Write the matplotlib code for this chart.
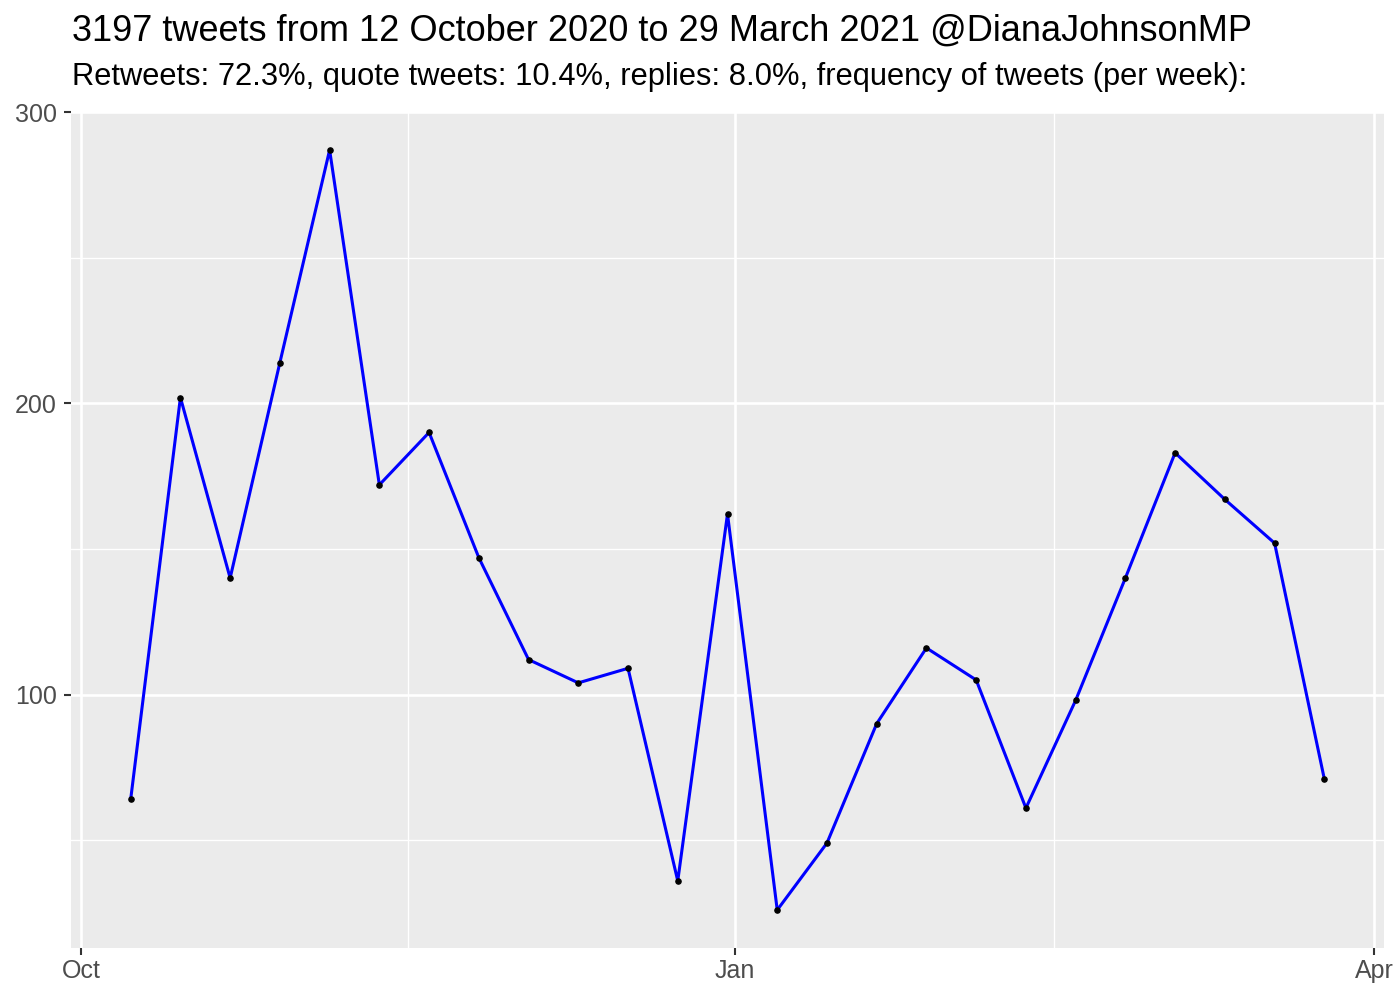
import matplotlib
matplotlib.use("Agg")
import matplotlib.pyplot as plt
import matplotlib.dates as mdates
import numpy as np
import pandas as pd

plt.rcParams['font.family'] = ['Liberation Sans', 'DejaVu Sans']

week_start = "2020-10-08"
n_weeks = 25
tweets_per_week = [64, 202, 140, 214, 287, 172, 190, 147, 112, 104, 109, 36,
                   162, 26, 49, 90, 116, 105, 61, 98, 140, 183, 167, 152, 71]
title = "3197 tweets from 12 October 2020 to 29 March 2021 @DianaJohnsonMP"
subtitle = "Retweets: 72.3%, quote tweets: 10.4%, replies: 8.0%, frequency of tweets (per week):"
x_ticks = ["2020-10-01", "2021-01-01", "2021-04-01"]
x_tick_labels = ["Oct", "Jan", "Apr"]
x_minor = ["2020-11-16", "2021-02-15"]
y_ticks = [100, 200, 300]
y_minor = [50, 150, 250]

dates = pd.date_range(week_start, periods=n_weeks, freq="7D")
vals = np.array(tweets_per_week)

fig = plt.figure(figsize=(14, 10), dpi=100)
ax = fig.add_axes([71/1400, 1 - 948/1000, (1384-71)/1400, (948-112)/1000])
ax.set_facecolor("#EBEBEB")

xn = mdates.date2num(dates)
xr = xn.max() - xn.min()
ax.set_xlim(xn.min() - 0.05*xr, xn.max() + 0.05*xr)
yr = vals.max() - vals.min()
ax.set_ylim(vals.min() - 0.05*yr, vals.max() + 0.05*yr)

ax.set_xticks(mdates.date2num(pd.to_datetime(x_ticks)))
ax.set_xticklabels(x_tick_labels)
ax.set_xticks(mdates.date2num(pd.to_datetime(x_minor)), minor=True)
ax.set_yticks(y_ticks)
ax.set_yticks(y_minor, minor=True)

ax.grid(which="major", color="white", linewidth=1.9)
ax.grid(which="minor", color="white", linewidth=0.95)
ax.set_axisbelow(True)
for s in ax.spines.values():
    s.set_visible(False)
ax.tick_params(which="major", length=5, width=1.5, color="#333333",
               labelsize=18, labelcolor="#4D4D4D")
ax.tick_params(axis="y", which="major", pad=5)
ax.tick_params(axis="x", which="major", pad=3)
ax.tick_params(which="minor", length=0)

ax.plot(dates, vals, color="#0000FF", linewidth=2.2, zorder=3)
ax.scatter(dates, vals, s=14, color="black", zorder=4)

fig.text(72/1400, 1 - 31/1000, title, fontsize=26, va="center", ha="left")
fig.text(72/1400, 1 - 77/1000, subtitle, fontsize=22.2, va="center", ha="left")

fig.savefig("out.png", dpi=100)
